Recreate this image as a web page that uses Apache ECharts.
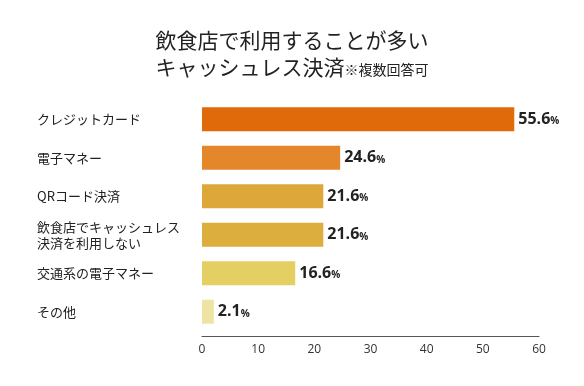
<!DOCTYPE html>
<html><head><meta charset="utf-8">
<script src="https://cdn.jsdelivr.net/npm/echarts@6/dist/echarts.min.js"></script>
<style>html,body{margin:0;padding:0;background:#fff}#c{width:584px;height:386px}</style>
</head><body><div id="c"></div>
<script>
const titleLine1 = '飲食店で利用することが多い';
const titleLine2 = 'キャッシュレス決済';
const titleNote = '※複数回答可';
const categories = ['クレジットカード','電子マネー','QRコード決済','飲食店でキャッシュレス\n決済を利用しない','交通系の電子マネー','その他'];
const values = [55.6, 24.6, 21.6, 21.6, 16.6, 2.1];
const barColors = ['#E06A0A','#E4872B','#DEA73A','#DBAE3E','#E4D062','#EEE3A2'];
const xTicks = [0,10,20,30,40,50,60];

const chart = echarts.init(document.getElementById('c'), null, {renderer:'canvas'});
const jp = '"Noto Sans CJK JP","Noto Sans",sans-serif';
chart.setOption({
  animation:false,
  backgroundColor:'#fff',
  title:{
    text:'{a|'+titleLine1+'}\n{b|'+titleLine2+'}{c|'+titleNote+'}',
    left:'center', top:22,
    textStyle:{fontWeight:'normal',rich:{
      a:{fontFamily:jp,fontSize:21,fontWeight:'normal',color:'#222',lineHeight:27},
      b:{fontFamily:jp,fontSize:21,fontWeight:'normal',color:'#222',lineHeight:27},
      c:{fontFamily:jp,fontSize:14,fontWeight:'normal',color:'#222',lineHeight:27,padding:[4,0,0,0]}
    }}
  },
  grid:{left:202,right:45,top:100,height:231},
  xAxis:{type:'value',min:0,max:60,interval:10,offset:5,
    axisLine:{show:true,lineStyle:{color:'#555',width:1}},
    axisTick:{show:false},splitLine:{show:false},
    axisLabel:{color:'#333',fontSize:12,fontFamily:'"Open Sans",sans-serif',margin:8,
      formatter:v=>xTicks.includes(v)?String(v):''}
  },
  yAxis:{type:'category',data:categories,inverse:true,
    axisLine:{show:false},axisTick:{show:false},
    axisLabel:{align:'left',margin:165,color:'#222',fontSize:13,fontFamily:jp,lineHeight:16}
  },
  series:[{type:'bar',barWidth:24,
    data:values.map((v,i)=>({value:v,itemStyle:{color:barColors[i]}})),
    label:{show:true,position:'right',distance:4,
      formatter:p=>'{n|'+p.value.toFixed(1)+'}{p|%}',
      rich:{n:{fontFamily:'"Open Sans",sans-serif',fontWeight:'bold',fontSize:16,color:'#222'},
            p:{fontFamily:'"Open Sans",sans-serif',fontWeight:'bold',fontSize:10,color:'#222',padding:[4,0,0,0]}}}
  }]
});
</script></body></html>
